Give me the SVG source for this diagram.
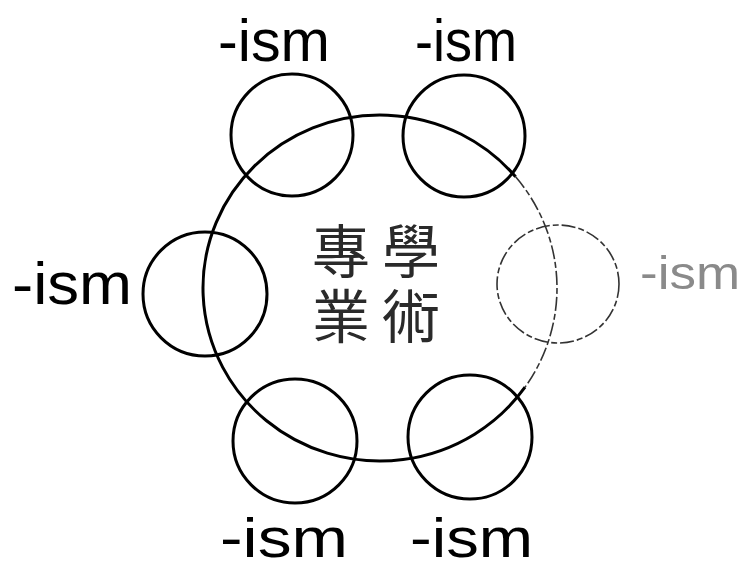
<svg xmlns="http://www.w3.org/2000/svg" width="748" height="571" viewBox="0 0 748 571">
<style>
.ring{fill:none;stroke:#000;stroke-width:3}
.faint{fill:none;stroke:#333;stroke-width:1.6;stroke-dasharray:14 3 6 3}
.lbl{font-family:"Liberation Sans","DejaVu Sans",sans-serif;font-size:60px;fill:#000}
.lblb{font-family:"Liberation Sans","DejaVu Sans",sans-serif;font-size:55px;fill:#000}
.lblf{font-family:"Liberation Sans","DejaVu Sans",sans-serif;font-size:46px;fill:#8a8a8a}
.cjk{font-family:"Noto Sans CJK TC","Noto Sans CJK SC",sans-serif;font-size:58px;fill:#2a2a2a;writing-mode:vertical-rl;letter-spacing:7px}
</style>
<rect width="748" height="571" fill="#fff"/>
<g id="hub">
<path class="ring" d="M515.6 176.8 A177 173 0 1 0 525 387.2"/>
<path class="faint" d="M515.6 176.8 A177 173 0 0 1 525 387.2"/>
<text class="cjk" x="411" y="222">學術</text>
<text class="cjk" x="341" y="222">專業</text>
</g>
<g id="ism-top-left">
<circle class="ring" cx="292" cy="135" r="61"/>
<text class="lbl" x="218" y="61" textLength="112" lengthAdjust="spacingAndGlyphs">-ism</text>
</g>
<g id="ism-top-right">
<circle class="ring" cx="464" cy="136" r="61" stroke-width="2.6"/>
<text class="lbl" x="415" y="61" textLength="102" lengthAdjust="spacingAndGlyphs">-ism</text>
</g>
<g id="ism-left">
<circle class="ring" cx="205" cy="294" r="62"/>
<text class="lbl" x="12" y="304" textLength="120" lengthAdjust="spacingAndGlyphs">-ism</text>
</g>
<g id="ism-right">
<ellipse class="faint" cx="558" cy="284" rx="61" ry="59"/>
<text class="lblf" x="640" y="289" textLength="100" lengthAdjust="spacingAndGlyphs">-ism</text>
</g>
<g id="ism-bottom-left">
<circle class="ring" cx="295" cy="441" r="62" stroke-width="2.6"/>
<text class="lblb" x="220" y="557" textLength="128" lengthAdjust="spacingAndGlyphs">-ism</text>
</g>
<g id="ism-bottom-right">
<circle class="ring" cx="470" cy="437" r="62" stroke-width="2.6"/>
<text class="lblb" x="410" y="557" textLength="123" lengthAdjust="spacingAndGlyphs">-ism</text>
</g>
<g id="connectors"/>
</svg>
